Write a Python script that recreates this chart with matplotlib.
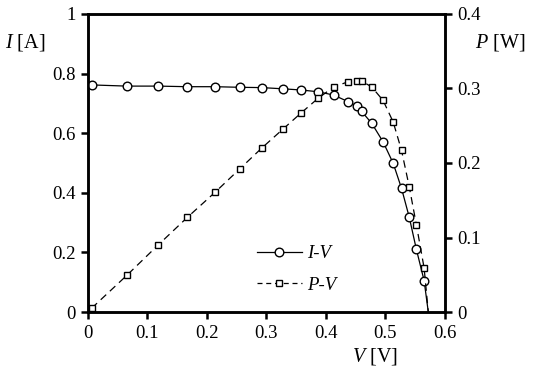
import matplotlib
matplotlib.use('Agg')
import matplotlib.pyplot as plt
from matplotlib.ticker import FuncFormatter, MultipleLocator
from matplotlib.lines import Line2D

# Valores (V en voltios, I en amperios, P en watts)
voltage = [0.006, 0.065, 0.118, 0.167, 0.214, 0.255, 0.292, 0.327, 0.358, 0.387,
           0.413, 0.437, 0.452, 0.460, 0.477, 0.496, 0.513, 0.527, 0.540, 0.552,
           0.565, 0.572]
current = [0.762, 0.758, 0.758, 0.756, 0.756, 0.754, 0.753, 0.749, 0.745, 0.739,
           0.728, 0.706, 0.690, 0.673, 0.633, 0.571, 0.499, 0.415, 0.318, 0.210,
           0.105, 0.0]
power = [0.005, 0.049, 0.090, 0.127, 0.161, 0.192, 0.220, 0.245, 0.267, 0.287,
         0.302, 0.309, 0.310, 0.310, 0.302, 0.284, 0.255, 0.217, 0.168, 0.117,
         0.059, 0.0]

plt.rcParams['font.family'] = ['Liberation Serif', 'DejaVu Serif']
plt.rcParams['mathtext.fontset'] = 'custom'
plt.rcParams['mathtext.rm'] = 'Liberation Serif'
plt.rcParams['mathtext.it'] = 'Liberation Serif:italic'

fig = plt.figure(figsize=(5.5, 3.77), dpi=100)
ax = fig.add_axes([0.16, 0.1724, 0.649, 0.7905])
ax2 = ax.twinx()

n = len(voltage) - 1
ax.plot(voltage, current, color='black', lw=0.9, marker='o', ms=6.2,
        mfc='white', mec='black', mew=1.0, markevery=list(range(n)), zorder=3)
ax2.plot(voltage, power, color='black', lw=0.9, dashes=(6, 4), marker='s', ms=5,
         mfc='white', mec='black', mew=1.0, markevery=list(range(n)), zorder=2)

ax.set_xlim(0, 0.6)
ax.set_ylim(0, 1)
ax2.set_ylim(0, 0.4)
ax.xaxis.set_major_locator(MultipleLocator(0.1))
ax.yaxis.set_major_locator(MultipleLocator(0.2))
ax2.yaxis.set_major_locator(MultipleLocator(0.1))
fmt = FuncFormatter(lambda v, p: '%g' % round(v, 3))
ax.xaxis.set_major_formatter(fmt)
ax.yaxis.set_major_formatter(fmt)
ax2.yaxis.set_major_formatter(fmt)

for a in (ax, ax2):
    for s in a.spines.values():
        s.set_linewidth(1.8)
    a.tick_params(direction='out', length=5, width=1.8, labelsize=13.5, pad=4)
ax.tick_params(top=False, right=False)

ax.text(-0.175, 0.903, r'$I$ [A]', transform=ax.transAxes, fontsize=14.5,
        ha='center', va='center')
ax2.text(1.155, 0.903, r'$P$ [W]', transform=ax.transAxes, fontsize=14.5,
         ha='center', va='center')
ax.text(0.805, -0.15, r'$V$ [V]', transform=ax.transAxes, fontsize=14.5,
        ha='center', va='center')

h1 = Line2D([], [], color='black', lw=0.9, marker='o', ms=6.2, mfc='white', mec='black')
h2 = Line2D([], [], color='black', lw=0.9, dashes=(4, 3), marker='s', ms=5, mfc='white', mec='black')
ax2.legend([h1, h2], ['I-V', 'P-V'], loc='center left', bbox_to_anchor=(0.425, 0.143),
           frameon=False, handlelength=2.4, handletextpad=0.3, labelspacing=0.75,
           prop={'style': 'italic', 'size': 13.5, 'family': 'Liberation Serif'})

fig.savefig('out.png', dpi=100)
